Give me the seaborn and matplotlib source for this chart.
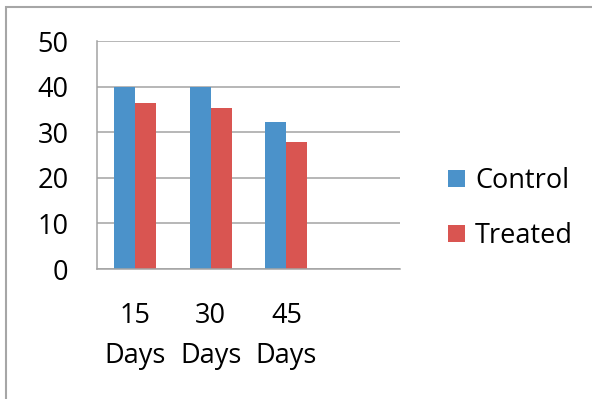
import matplotlib
matplotlib.use("Agg")
import matplotlib.pyplot as plt
import pandas as pd
import seaborn as sns
from matplotlib.patches import Patch, Rectangle

# Chart data
categories = ["15\nDays", "30\nDays", "45\nDays"]
series = ["Control", "Treated"]
control = [40.0, 40.0, 32.2]
treated = [36.5, 35.3, 27.8]
yticks = [0, 10, 20, 30, 40, 50]
colors = ["#4B92CA", "#D95551"]

sns.set_style("white")
plt.rcParams["font.family"] = ["Open Sans", "DejaVu Sans"]

df = pd.DataFrame({
    "Period": categories * 2,
    "Group": [series[0]] * len(control) + [series[1]] * len(treated),
    "Value": control + treated,
})

W, H = 592, 399
fig = plt.figure(figsize=(W / 100, H / 100), dpi=100)
ax = fig.add_axes([97 / W, 1 - 269 / H, 303 / W, 228 / H])

# one extra empty slot on the category axis
order = categories + [""]
sns.barplot(data=df, x="Period", y="Value", hue="Group", order=order,
            hue_order=series, palette=colors, saturation=1, width=0.555,
            errorbar=None, legend=False, linewidth=0, ax=ax)

grid_c = "#A3A3A3"
fs = 19.5
ax.set_xlim(-0.5, len(order) - 0.5)
ax.set_ylim(0, 50)
ax.set_yticks(yticks)
ax.yaxis.grid(True, color=grid_c, lw=1.1)
ax.set_axisbelow(True)
ax.set_xlabel("")
ax.set_ylabel("")

ax.set_xticks(range(len(categories)), categories)
ax.set_xticks([i - 0.5 for i in range(len(order) + 1)], minor=True)
ax.tick_params(axis="x", which="major", length=0, pad=24, labelsize=fs,
               labelcolor="black")
ax.tick_params(axis="x", which="minor", length=6.5, width=1.1, color=grid_c,
               direction="out")
ax.tick_params(axis="y", length=6.5, width=1.1, color=grid_c, pad=14,
               labelsize=fs, labelcolor="black", direction="out")
for t in ax.get_xticklabels():
    t.set_linespacing(1.56)

for s in ["top", "right"]:
    ax.spines[s].set_visible(False)
for s in ["left", "bottom"]:
    ax.spines[s].set_color(grid_c)
    ax.spines[s].set_linewidth(1.1)

handles = [Patch(facecolor=c, edgecolor="none", label=s) for c, s in zip(colors, series)]
fig.legend(handles=handles, loc="center left", bbox_to_anchor=(448 / W, 1 - 208.5 / H),
           frameon=False, handlelength=0.63, handleheight=0.63, handletextpad=0.37,
           labelspacing=0.99, fontsize=fs, labelcolor="black",
           borderpad=0, borderaxespad=0)

# chart area border
fig.add_artist(Rectangle((5.5 / W, -0.1), 1.2, (1 - 7.5 / H) + 0.1,
                         transform=fig.transFigure, fill=False,
                         edgecolor="#A6A6A6", lw=1.5))

fig.savefig("out.png", dpi=100)
